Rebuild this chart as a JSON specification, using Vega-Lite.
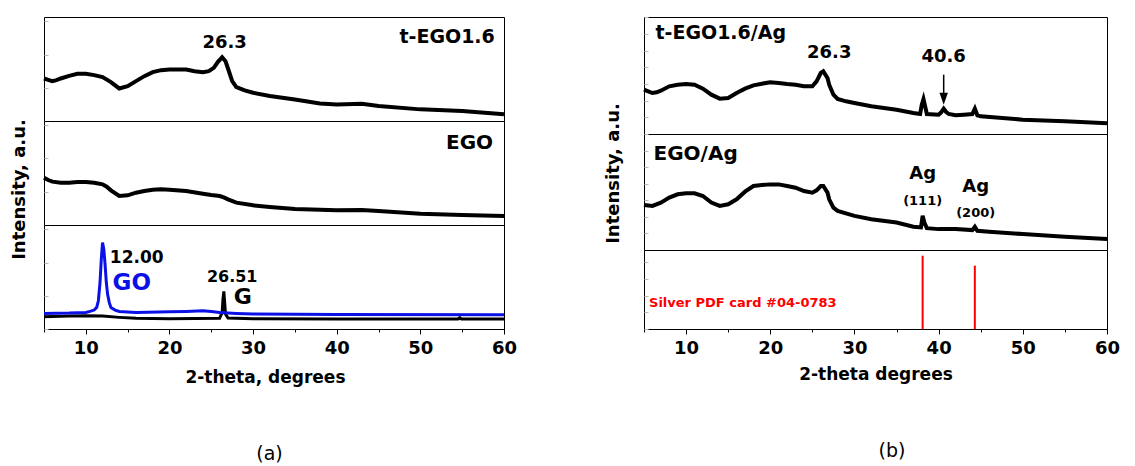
{
  "$schema": "https://vega.github.io/schema/vega-lite/v6.json",
  "padding": {"left": 9, "top": 16, "right": 5, "bottom": 5},
  "background": "white",
  "datasets": {
    "tEGO": [
      {"x":5,"y":128},{"x":5.5,"y":124},{"x":6,"y":120},{"x":6.5,"y":123},{"x":7,"y":128},{"x":8,"y":136},{"x":9,"y":142},{"x":10,"y":142},{"x":11,"y":138},{"x":12,"y":132},{"x":13,"y":117},{"x":14,"y":98},{"x":15,"y":105},{"x":16,"y":120},{"x":17,"y":135},{"x":18,"y":147},{"x":19,"y":153},{"x":20,"y":155},{"x":21,"y":155},{"x":22,"y":155},{"x":23,"y":150},{"x":24,"y":147},{"x":24.7,"y":150},{"x":25.3,"y":160},{"x":25.8,"y":178},{"x":26.3,"y":192},{"x":26.7,"y":180},{"x":27,"y":158},{"x":27.5,"y":120},{"x":28,"y":102},{"x":29,"y":92},{"x":30,"y":85},{"x":32,"y":75},{"x":35,"y":65},{"x":38,"y":53},{"x":40,"y":50},{"x":43,"y":52},{"x":45,"y":45},{"x":50,"y":35},{"x":55,"y":30},{"x":60,"y":20}
    ],
    "EGO": [
      {"x":5,"y":142},{"x":5.5,"y":135},{"x":6,"y":130},{"x":7,"y":127},{"x":8,"y":127},{"x":9,"y":129},{"x":10,"y":129},{"x":11,"y":127},{"x":12,"y":122},{"x":12.5,"y":115},{"x":13,"y":104},{"x":14,"y":87},{"x":15,"y":89},{"x":16,"y":97},{"x":17,"y":102},{"x":18,"y":106},{"x":19,"y":107},{"x":20,"y":106},{"x":22,"y":102},{"x":24,"y":94},{"x":25,"y":90},{"x":26,"y":87},{"x":26.5,"y":83},{"x":27,"y":77},{"x":28,"y":67},{"x":30,"y":59},{"x":32,"y":54},{"x":35,"y":48},{"x":40,"y":44},{"x":43,"y":45},{"x":45,"y":42},{"x":50,"y":34},{"x":55,"y":30},{"x":60,"y":27}
    ],
    "GO": [
      {"x":5,"y":47},{"x":8,"y":48},{"x":10,"y":50},{"x":10.5,"y":53},{"x":11,"y":57},{"x":11.3,"y":65},{"x":11.5,"y":85},{"x":11.7,"y":140},{"x":11.85,"y":210},{"x":12,"y":260},{"x":12.15,"y":240},{"x":12.3,"y":195},{"x":12.45,"y":140},{"x":12.6,"y":105},{"x":12.8,"y":80},{"x":13,"y":65},{"x":13.5,"y":57},{"x":14,"y":53},{"x":16,"y":50},{"x":20,"y":52},{"x":22,"y":53},{"x":24,"y":55},{"x":25,"y":53},{"x":26,"y":50},{"x":28,"y":47},{"x":30,"y":45},{"x":40,"y":44},{"x":60,"y":43}
    ],
    "G": [
      {"x":5,"y":37},{"x":8,"y":39},{"x":10,"y":40},{"x":12,"y":39},{"x":14,"y":35},{"x":16,"y":32},{"x":20,"y":31},{"x":26,"y":32},{"x":26.3,"y":50},{"x":26.4,"y":90},{"x":26.5,"y":113},{"x":26.6,"y":80},{"x":26.7,"y":45},{"x":27,"y":33},{"x":30,"y":31},{"x":40,"y":30},{"x":50,"y":30},{"x":54.5,"y":30},{"x":54.7,"y":34},{"x":54.9,"y":30},{"x":60,"y":30}
    ],
    "tEGOAg": [
      {"x":5,"y":133},{"x":5.5,"y":128},{"x":6,"y":123},{"x":6.5,"y":125},{"x":7,"y":130},{"x":8,"y":143},{"x":9,"y":148},{"x":10,"y":150},{"x":11,"y":148},{"x":12,"y":136},{"x":13,"y":118},{"x":14,"y":106},{"x":15,"y":108},{"x":16,"y":123},{"x":17,"y":136},{"x":18,"y":146},{"x":19,"y":151},{"x":20,"y":155},{"x":21,"y":153},{"x":22,"y":150},{"x":23,"y":148},{"x":24,"y":143},{"x":25,"y":143},{"x":25.5,"y":158},{"x":26,"y":183},{"x":26.3,"y":188},{"x":26.8,"y":168},{"x":27,"y":148},{"x":27.5,"y":118},{"x":28,"y":105},{"x":29,"y":98},{"x":30,"y":93},{"x":32,"y":83},{"x":35,"y":73},{"x":37,"y":63},{"x":37.8,"y":60},{"x":38,"y":88},{"x":38.2,"y":105},{"x":38.4,"y":83},{"x":38.6,"y":60},{"x":40,"y":58},{"x":40.3,"y":65},{"x":40.6,"y":76},{"x":40.9,"y":66},{"x":41.2,"y":60},{"x":42,"y":56},{"x":43,"y":58},{"x":44,"y":60},{"x":44.3,"y":76},{"x":44.6,"y":56},{"x":45,"y":53},{"x":50,"y":43},{"x":55,"y":38},{"x":60,"y":32}
    ],
    "EGOAg": [
      {"x":5,"y":136},{"x":6,"y":133},{"x":7,"y":143},{"x":8,"y":158},{"x":9,"y":168},{"x":10,"y":171},{"x":11,"y":171},{"x":12,"y":163},{"x":13,"y":143},{"x":14,"y":133},{"x":15,"y":138},{"x":16,"y":153},{"x":17,"y":176},{"x":18,"y":193},{"x":19,"y":196},{"x":20,"y":198},{"x":21,"y":198},{"x":22,"y":193},{"x":23,"y":188},{"x":24,"y":178},{"x":25,"y":173},{"x":25.5,"y":180},{"x":26,"y":193},{"x":26.3,"y":193},{"x":26.8,"y":173},{"x":27,"y":153},{"x":27.5,"y":128},{"x":28,"y":118},{"x":30,"y":103},{"x":32,"y":93},{"x":35,"y":83},{"x":37,"y":70},{"x":37.9,"y":68},{"x":38.1,"y":103},{"x":38.3,"y":83},{"x":38.6,"y":66},{"x":40,"y":63},{"x":42,"y":63},{"x":44,"y":60},{"x":44.3,"y":70},{"x":44.6,"y":58},{"x":46,"y":55},{"x":50,"y":48},{"x":55,"y":40},{"x":60,"y":33}
    ],
    "silver": [{"x":38.1,"y":220},{"x":44.3,"y":190}]
  },
  "hconcat": [
    {
      "title": {"text": "(a)", "orient": "bottom", "anchor": "middle", "frame": "bounds", "fontSize": 19, "fontWeight": "normal", "font": "DejaVu Sans", "color": "black", "offset": 59, "dx": 6},
      "spacing": 0,
      "bounds": "flush",
      "vconcat": [
        {
          "width": 460, "height": 104,
          "layer": [
            {"data": {"name": "tEGO"}, "mark": {"type": "line", "color": "black", "strokeWidth": 4},
             "encoding": {
               "x": {"field": "x", "type": "quantitative", "scale": {"domain": [5, 60], "nice": false, "zero": false}, "axis": null},
               "y": {"field": "y", "type": "quantitative", "scale": {"domain": [0, 313], "nice": false, "zero": false},
                     "axis": {"labels": false, "domain": false, "tickSize": -4, "tickColor": "#bbb", "tickCount": 4, "title": null}}}},
            {"data": {"values": [{"x": 26.6, "y": 235, "t": "26.3"}]}, "mark": {"type": "text", "font": "DejaVu Sans", "fontWeight": "bold", "fontSize": 18, "color": "black", "align": "center", "baseline": "middle"},
             "encoding": {"x": {"field": "x", "type": "quantitative"}, "y": {"field": "y", "type": "quantitative"}, "text": {"field": "t"}}},
            {"data": {"values": [{"x": 58.9, "y": 252, "t": "t-EGO1.6"}]}, "mark": {"type": "text", "font": "DejaVu Sans", "fontWeight": "bold", "fontSize": 19, "color": "black", "align": "right", "baseline": "middle"},
             "encoding": {"x": {"field": "x", "type": "quantitative"}, "y": {"field": "y", "type": "quantitative"}, "text": {"field": "t"}}}
          ]
        },
        {
          "width": 460, "height": 104,
          "layer": [
            {"data": {"name": "EGO"}, "mark": {"type": "line", "color": "black", "strokeWidth": 4},
             "encoding": {
               "x": {"field": "x", "type": "quantitative", "scale": {"domain": [5, 60], "nice": false, "zero": false}, "axis": null},
               "y": {"field": "y", "type": "quantitative", "scale": {"domain": [0, 312], "nice": false, "zero": false},
                     "axis": {"labels": false, "domain": false, "tickSize": -4, "tickColor": "#bbb", "tickCount": 4, "title": "Intensity, a.u.", "titleFontSize": 18, "titlePadding": 15, "titleY": 68}}}},
            {"data": {"values": [{"x": 58.7, "y": 247, "t": "EGO"}]}, "mark": {"type": "text", "font": "DejaVu Sans", "fontWeight": "bold", "fontSize": 20, "color": "black", "align": "right", "baseline": "middle"},
             "encoding": {"x": {"field": "x", "type": "quantitative"}, "y": {"field": "y", "type": "quantitative"}, "text": {"field": "t"}}}
          ]
        },
        {
          "width": 460, "height": 104,
          "layer": [
            {"data": {"name": "G"}, "mark": {"type": "line", "color": "black", "strokeWidth": 3},
             "encoding": {
               "x": {"field": "x", "type": "quantitative", "scale": {"domain": [5, 60], "nice": false, "zero": false},
                     "axis": {"values": [5,10,15,20,25,30,35,40,45,50,55,60], "labelExpr": "datum.value % 10 === 0 ? datum.label : ''", "tickSize": {"condition": {"test": "datum.value % 10 === 0", "value": 5}, "value": 3}, "labelFlush": false, "labelOverlap": false, "labelPadding": 5, "title": "2-theta, degrees", "titleX": 221, "titlePadding": 12}},
               "y": {"field": "y", "type": "quantitative", "scale": {"domain": [0, 313], "nice": false, "zero": false},
                     "axis": {"labels": false, "domain": false, "tickSize": -4, "tickColor": "#bbb", "tickCount": 4, "title": null}}}},
            {"data": {"name": "GO"}, "mark": {"type": "line", "color": "#0a10e6", "strokeWidth": 3},
             "encoding": {"x": {"field": "x", "type": "quantitative"}, "y": {"field": "y", "type": "quantitative"}}},
            {"data": {"values": [{"x": 12.87, "y": 215, "t": "12.00"}]}, "mark": {"type": "text", "font": "DejaVu Sans", "fontWeight": "bold", "fontSize": 17, "color": "black", "align": "left", "baseline": "middle"},
             "encoding": {"x": {"field": "x", "type": "quantitative"}, "y": {"field": "y", "type": "quantitative"}, "text": {"field": "t"}}},
            {"data": {"values": [{"x": 13.2, "y": 137, "t": "GO"}]}, "mark": {"type": "text", "font": "DejaVu Sans", "fontWeight": "bold", "fontSize": 23, "color": "#0a10e6", "align": "left", "baseline": "middle"},
             "encoding": {"x": {"field": "x", "type": "quantitative"}, "y": {"field": "y", "type": "quantitative"}, "text": {"field": "t"}}},
            {"data": {"values": [{"x": 27.5, "y": 158, "t": "26.51"}]}, "mark": {"type": "text", "font": "DejaVu Sans", "fontWeight": "bold", "fontSize": 16, "color": "black", "align": "center", "baseline": "middle"},
             "encoding": {"x": {"field": "x", "type": "quantitative"}, "y": {"field": "y", "type": "quantitative"}, "text": {"field": "t"}}},
            {"data": {"values": [{"x": 27.7, "y": 95, "t": "G"}]}, "mark": {"type": "text", "font": "DejaVu Sans", "fontWeight": "bold", "fontSize": 22, "color": "black", "align": "left", "baseline": "middle"},
             "encoding": {"x": {"field": "x", "type": "quantitative"}, "y": {"field": "y", "type": "quantitative"}, "text": {"field": "t"}}}
          ]
        }
      ]
    },
    {
      "title": {"text": "(b)", "orient": "bottom", "anchor": "middle", "frame": "bounds", "fontSize": 19, "fontWeight": "normal", "font": "DejaVu Sans", "color": "black", "offset": 59, "dx": 30},
      "spacing": 0,
      "bounds": "flush",
      "vconcat": [
        {
          "width": 463, "height": 117,
          "layer": [
            {"data": {"name": "tEGOAg"}, "mark": {"type": "line", "color": "black", "strokeWidth": 4},
             "encoding": {
               "x": {"field": "x", "type": "quantitative", "scale": {"domain": [5, 60], "nice": false, "zero": false}, "axis": null},
               "y": {"field": "y", "type": "quantitative", "scale": {"domain": [0, 351], "nice": false, "zero": false},
                     "axis": {"labels": false, "domain": false, "tickSize": -4, "tickColor": "#bbb", "tickCount": 6, "title": null}}}},
            {"data": {"values": [{"x": 6.36, "y": 303, "t": "t-EGO1.6/Ag"}]}, "mark": {"type": "text", "font": "DejaVu Sans", "fontWeight": "bold", "fontSize": 19, "color": "black", "align": "left", "baseline": "middle"},
             "encoding": {"x": {"field": "x", "type": "quantitative"}, "y": {"field": "y", "type": "quantitative"}, "text": {"field": "t"}}},
            {"data": {"values": [{"x": 27.0, "y": 243, "t": "26.3"}, {"x": 40.6, "y": 230, "t": "40.6"}]}, "mark": {"type": "text", "font": "DejaVu Sans", "fontWeight": "bold", "fontSize": 18, "color": "black", "align": "center", "baseline": "middle"},
             "encoding": {"x": {"field": "x", "type": "quantitative"}, "y": {"field": "y", "type": "quantitative"}, "text": {"field": "t"}}},
            {"data": {"values": [{"x": 40.6, "y": 178, "y2": 106}]}, "mark": {"type": "rule", "color": "black", "strokeWidth": 1.5},
             "encoding": {"x": {"field": "x", "type": "quantitative"}, "y": {"field": "y", "type": "quantitative"}, "y2": {"field": "y2"}}},
            {"data": {"values": [{"x": 40.6, "y": 106}]}, "mark": {"type": "point", "shape": "M-0.7,-1L0.7,-1L0,1Z", "size": 144, "filled": true, "color": "black", "opacity": 1},
             "encoding": {"x": {"field": "x", "type": "quantitative"}, "y": {"field": "y", "type": "quantitative"}}}
          ]
        },
        {
          "width": 463, "height": 116,
          "layer": [
            {"data": {"name": "EGOAg"}, "mark": {"type": "line", "color": "black", "strokeWidth": 4},
             "encoding": {
               "x": {"field": "x", "type": "quantitative", "scale": {"domain": [5, 60], "nice": false, "zero": false}, "axis": null},
               "y": {"field": "y", "type": "quantitative", "scale": {"domain": [0, 350], "nice": false, "zero": false},
                     "axis": {"labels": false, "domain": false, "tickSize": -4, "tickColor": "#bbb", "tickCount": 6, "title": "Intensity, a.u.", "titleFontSize": 18, "titlePadding": 21, "titleY": 39}}}},
            {"data": {"values": [{"x": 6.13, "y": 290, "t": "EGO/Ag"}]}, "mark": {"type": "text", "font": "DejaVu Sans", "fontWeight": "bold", "fontSize": 20, "color": "black", "align": "left", "baseline": "middle"},
             "encoding": {"x": {"field": "x", "type": "quantitative"}, "y": {"field": "y", "type": "quantitative"}, "text": {"field": "t"}}},
            {"data": {"values": [{"x": 38.1, "y": 230, "t": "Ag"}, {"x": 44.4, "y": 191, "t": "Ag"}]}, "mark": {"type": "text", "font": "DejaVu Sans", "fontWeight": "bold", "fontSize": 18, "color": "black", "align": "center", "baseline": "middle"},
             "encoding": {"x": {"field": "x", "type": "quantitative"}, "y": {"field": "y", "type": "quantitative"}, "text": {"field": "t"}}},
            {"data": {"values": [{"x": 38.1, "y": 148, "t": "(111)"}, {"x": 44.4, "y": 111, "t": "(200)"}]}, "mark": {"type": "text", "font": "DejaVu Sans", "fontWeight": "bold", "fontSize": 13, "color": "black", "align": "center", "baseline": "middle"},
             "encoding": {"x": {"field": "x", "type": "quantitative"}, "y": {"field": "y", "type": "quantitative"}, "text": {"field": "t"}}}
          ]
        },
        {
          "width": 463, "height": 79,
          "layer": [
            {"data": {"name": "silver"}, "mark": {"type": "rule", "color": "#ff0000", "strokeWidth": 2},
             "encoding": {
               "x": {"field": "x", "type": "quantitative", "scale": {"domain": [5, 60], "nice": false, "zero": false},
                     "axis": {"values": [5,10,15,20,25,30,35,40,45,50,55,60], "labelExpr": "datum.value % 10 === 0 ? datum.label : ''", "tickSize": {"condition": {"test": "datum.value % 10 === 0", "value": 5}, "value": 3}, "labelFlush": false, "labelOverlap": false, "labelPadding": 5, "title": "2-theta degrees", "titlePadding": 9}},
               "y": {"field": "y", "type": "quantitative", "scale": {"domain": [0, 237], "nice": false, "zero": false},
                     "axis": {"labels": false, "domain": false, "tickSize": -4, "tickColor": "#bbb", "tickCount": 4, "title": null}},
               "y2": {"datum": 0}}},
            {"data": {"values": [{"x": 5.6, "y": 77, "t": "Silver PDF card #04-0783"}]}, "mark": {"type": "text", "font": "DejaVu Sans", "fontWeight": "bold", "fontSize": 13, "color": "#ff0000", "align": "left", "baseline": "middle"},
             "encoding": {"x": {"field": "x", "type": "quantitative"}, "y": {"field": "y", "type": "quantitative"}, "text": {"field": "t"}}}
          ]
        }
      ]
    }
  ],
  "spacing": 86,
  "config": {
    "view": {"stroke": "black", "strokeWidth": 1},
    "font": "DejaVu Sans",
    "axis": {"grid": false, "labelFont": "DejaVu Sans", "titleFont": "DejaVu Sans", "labelFontWeight": "bold", "titleFontWeight": "bold", "labelFontSize": 18, "titleFontSize": 17, "labelColor": "black", "titleColor": "black", "tickColor": "black", "domainColor": "black", "minExtent": 0}
  }
}
